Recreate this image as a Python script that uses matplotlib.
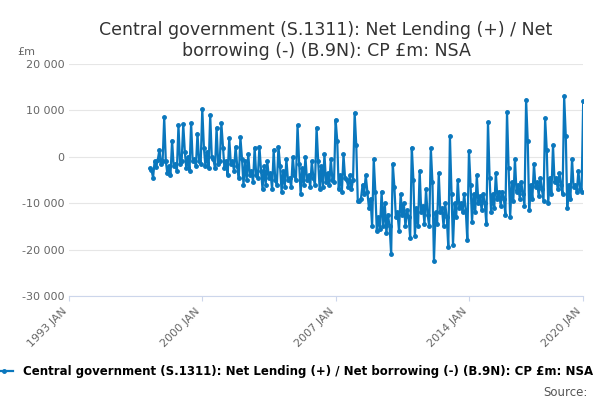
import matplotlib.pyplot as plt
import matplotlib.dates as mdates
import numpy as np

"""
    Monthly values (£m), April 1997 to January 2020.
"""
values = {
    1997: [-2500, -2800, -4500, -1000, -2200, -600, 1500, -1500, -1000],
    1998: [8500, -1000, -3500, -2000, -4000, 3500, -2000, -1500, -3000, 6800, -1500, -1000],
    1999: [7000, 1000, -2500, 0, -3000, 7300, -1000, -500, -2000, 5000, -1000, -1500],
    2000: [10300, 2000, -2000, 1000, -2500, 9000, 0, -500, -2500, 6300, -1500, -1000],
    2001: [7200, 2000, -2500, -1000, -4000, 4000, -1500, -1000, -3000, 2200, -2000, -4500],
    2002: [4200, -500, -6000, -1000, -5000, 500, -4000, -3000, -5500, 2000, -4000, -4500],
    2003: [2200, -3000, -7000, -2000, -6000, -1000, -4500, -3500, -7000, 1500, -5000, -6000],
    2004: [2200, -2000, -7500, -3000, -6500, -500, -5000, -4500, -6500, 0, -4000, -5000],
    2005: [6800, -1500, -8000, -2500, -6000, 0, -5000, -4000, -6500, -1000, -4500, -6000],
    2006: [6300, -1000, -7000, -2000, -6500, 500, -5500, -3500, -6000, -500, -5000, -5500],
    2007: [8000, 3500, -7000, -4000, -7500, 500, -4500, -5000, -6500, -4000, -7000, -5000],
    2008: [9500, 2500, -9500, -9500, -9000, -6000, -8000, -4000, -7500, -11000, -9000, -15000],
    2009: [-500, -7500, -16000, -13000, -15500, -7500, -15000, -10000, -16500, -12500, -15000, -21000],
    2010: [-1500, -6500, -13000, -12000, -16000, -8000, -12500, -10000, -15000, -11500, -13000, -17500],
    2011: [2000, -5000, -17000, -11000, -15000, -3000, -12000, -10500, -14500, -7000, -12500, -15000],
    2012: [1800, -5500, -22500, -12000, -14500, -3500, -12000, -11000, -15000, -10000, -13000, -19500],
    2013: [4500, -8000, -19000, -10000, -13000, -5000, -11000, -10000, -12000, -8000, -11500, -18000],
    2014: [1300, -6000, -14000, -8000, -12000, -4000, -10000, -8500, -11500, -8000, -10000, -14500],
    2015: [7500, -4500, -12000, -8000, -11000, -3500, -9000, -7500, -10500, -7500, -9000, -12500],
    2016: [9700, -2500, -13000, -5500, -9500, -500, -7500, -6000, -9000, -5500, -8000, -10500],
    2017: [12300, 3500, -11500, -6000, -9000, -1500, -6500, -5500, -8500, -4500, -7000, -9500],
    2018: [8300, 1500, -10000, -4500, -8000, 2500, -5500, -4500, -7000, -3500, -6000, -8000],
    2019: [13000, 4500, -11000, -6000, -9000, -500, -6500, -6000, -7500, -3000, -7000, -7500],
    2020: [12000],
}

y = np.array([v for year in sorted(values) for v in values[year]])
dates = np.arange(np.datetime64("1997-04"), np.datetime64("1997-04") + len(y)).astype("datetime64[D]")

plt.figure(figsize=(6, 4), dpi=100)
plt.plot(dates, y, color="#0a77bd", linewidth=1.6, marker="o", markersize=2.5,
         label="Central government (S.1311): Net Lending (+) / Net borrowing (-) (B.9N): CP £m: NSA")
plt.title("Central government (S.1311): Net Lending (+) / Net\nborrowing (-) (B.9N): CP £m: NSA",
          fontsize=12.5, color="#333333")

ax = plt.gca()
ticks = [np.datetime64(d) for d in ["1993-01-01", "2000-01-01", "2007-01-01", "2014-01-01", "2020-01-01"]]
plt.xticks(ticks, ["1993 JAN", "2000 JAN", "2007 JAN", "2014 JAN", "2020 JAN"], rotation=45,
           ha="right", fontsize=8, color="#666666")
plt.xlim(ticks[0], ticks[-1])
plt.ylim(-30000, 20000)
plt.yticks(range(-30000, 20001, 10000),
           ["{:,}".format(t).replace(",", " ") for t in range(-30000, 20001, 10000)],
           fontsize=8, color="#666666")
plt.grid(axis="y", color="#e6e6e6")
ax.set_axisbelow(True)
for side in ["top", "right", "left"]:
    ax.spines[side].set_visible(False)
ax.spines["bottom"].set_color("#ccd6eb")
ax.tick_params(axis="y", length=0)
ax.tick_params(axis="x", color="#ccd6eb")
ax.text(-0.1, 1.04, "£m", transform=ax.transAxes, fontsize=8, color="#666666")

leg = plt.legend(loc="center", bbox_to_anchor=(0.49, 0.07), bbox_transform=plt.gcf().transFigure,
                 frameon=False, prop={"weight": "bold", "size": 8.5}, handlelength=1.5)
plt.figtext(0.98, 0.01, "Source:", ha="right", fontsize=8.5, color="#555555")
plt.subplots_adjust(left=0.115, right=0.972, top=0.84, bottom=0.26)
plt.savefig("out.png")
